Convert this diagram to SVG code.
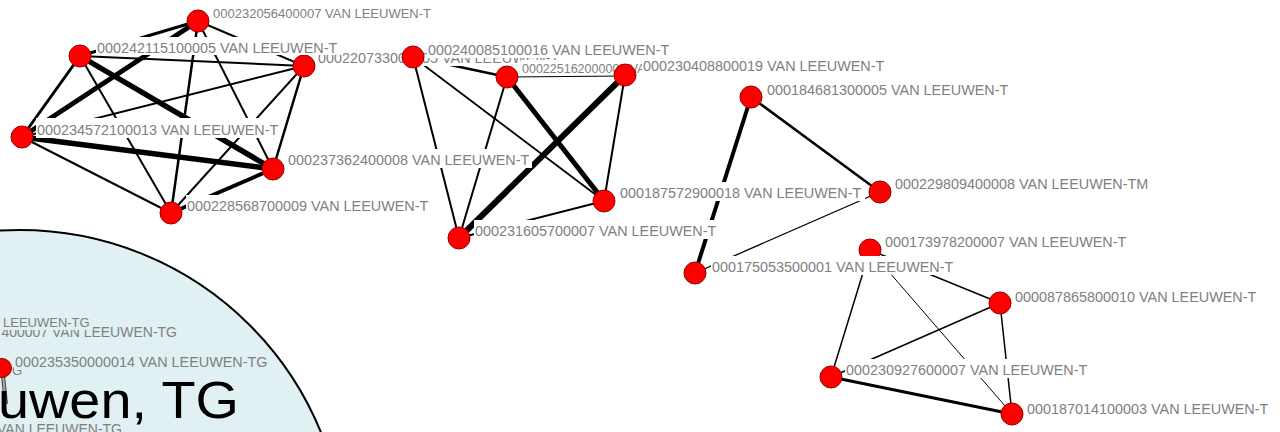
<svg xmlns="http://www.w3.org/2000/svg" width="1280" height="432" viewBox="0 0 1280 432">
<style>
.e line{stroke:#000;fill:none}
.n{fill:#f00;stroke:#900;stroke-width:1}
.t{font-family:"Liberation Sans",Arial,sans-serif;font-size:14.4px;fill:#808080}
.bg{fill:#fff}
.bb{fill:#e1f0f2}
.big{font-family:"Liberation Sans",Arial,sans-serif;font-size:52px;fill:#000}
</style>
<rect width="1280" height="432" fill="#fff"/>
<g id="connectors" class="e">
<line x1="198" y1="21" x2="80" y2="56" stroke-width="3"/>
<line x1="198" y1="21" x2="304" y2="66" stroke-width="2"/>
<line x1="198" y1="21" x2="22" y2="137" stroke-width="5"/>
<line x1="198" y1="21" x2="273" y2="169" stroke-width="2"/>
<line x1="198" y1="21" x2="171" y2="213" stroke-width="2.5"/>
<line x1="80" y1="56" x2="304" y2="66" stroke-width="2"/>
<line x1="80" y1="56" x2="22" y2="137" stroke-width="3"/>
<line x1="80" y1="56" x2="273" y2="169" stroke-width="5.5"/>
<line x1="80" y1="56" x2="171" y2="213" stroke-width="2"/>
<line x1="304" y1="66" x2="22" y2="137" stroke-width="2"/>
<line x1="304" y1="66" x2="273" y2="169" stroke-width="2.5"/>
<line x1="304" y1="66" x2="171" y2="213" stroke-width="2"/>
<line x1="22" y1="137" x2="273" y2="169" stroke-width="5.5"/>
<line x1="22" y1="137" x2="171" y2="213" stroke-width="2"/>
<line x1="273" y1="169" x2="171" y2="213" stroke-width="4"/>
<line x1="413" y1="57" x2="507" y2="77" stroke-width="2.5"/>
<line x1="413" y1="57" x2="604" y2="201" stroke-width="1.8"/>
<line x1="413" y1="57" x2="459" y2="238" stroke-width="2"/>
<line x1="507" y1="77" x2="625" y2="76" stroke-width="1.2"/>
<line x1="507" y1="77" x2="604" y2="201" stroke-width="5"/>
<line x1="507" y1="77" x2="459" y2="238" stroke-width="2"/>
<line x1="625" y1="75" x2="604" y2="201" stroke-width="2"/>
<line x1="625" y1="75" x2="459" y2="238" stroke-width="6"/>
<line x1="604" y1="201" x2="459" y2="238" stroke-width="2"/>
<line x1="751" y1="97" x2="880" y2="192" stroke-width="2.5"/>
<line x1="751" y1="97" x2="695" y2="273" stroke-width="4"/>
<line x1="880" y1="192" x2="695" y2="273" stroke-width="1.3"/>
<line x1="870" y1="250" x2="1000" y2="303" stroke-width="1.5"/>
<line x1="870" y1="250" x2="831" y2="377" stroke-width="1.5"/>
<line x1="870" y1="250" x2="1012" y2="414" stroke-width="1"/>
<line x1="1000" y1="303" x2="831" y2="377" stroke-width="1.5"/>
<line x1="1000" y1="303" x2="1012" y2="414" stroke-width="1.5"/>
<line x1="831" y1="377" x2="1012" y2="414" stroke-width="3"/>
</g>
<g id="n000232056400007"><circle class="n" cx="198" cy="21" r="11"/><rect class="bg" x="212" y="4" width="221" height="17"/><text class="t" x="213" y="18" style="font-size:13px">000232056400007 VAN LEEUWEN-T</text></g>
<g id="n000220733000005"><circle class="n" cx="304" cy="66" r="11"/><rect class="bg" x="317" y="47" width="245" height="19"/><text class="t" x="318" y="63">000220733000005 VAN LEEUWEN-T</text></g>
<g id="n000242115100005"><circle class="n" cx="80" cy="56" r="11"/><rect class="bg" x="96" y="37" width="245" height="18"/><text class="t" x="97" y="53">000242115100005 VAN LEEUWEN-T</text></g>
<g id="n000234572100013"><circle class="n" cx="22" cy="137" r="11"/><rect class="bg" x="36" y="118" width="245" height="20"/><text class="t" x="37" y="135">000234572100013 VAN LEEUWEN-T</text></g>
<g id="n000237362400008"><circle class="n" cx="273" cy="169" r="11"/><rect class="bg" x="287" y="149" width="245" height="19"/><text class="t" x="288" y="165">000237362400008 VAN LEEUWEN-T</text></g>
<g id="n000228568700009"><circle class="n" cx="171" cy="213" r="11"/><rect class="bg" x="186" y="195" width="245" height="19"/><text class="t" x="187" y="211">000228568700009 VAN LEEUWEN-T</text></g>
<g id="n000240085100016"><circle class="n" cx="413" cy="57" r="11"/><rect class="bg" x="427" y="39" width="245" height="19"/><text class="t" x="428" y="55">000240085100016 VAN LEEUWEN-T</text></g>
<g id="n000225162000001"><circle class="n" cx="507" cy="77" r="11"/><rect class="bg" x="521" y="60" width="212" height="14.5"/><text class="t" x="522" y="73" style="font-size:12.5px">000225162000001 VAN LEEUWEN-T</text></g>
<g id="n000230408800019"><circle class="n" cx="625" cy="75" r="11"/><rect class="bg" x="642" y="55" width="245" height="19"/><text class="t" x="643" y="71">000230408800019 VAN LEEUWEN-T</text></g>
<g id="n000231605700007"><circle class="n" cx="459" cy="238" r="11"/><rect class="bg" x="474" y="220" width="245" height="19"/><text class="t" x="475" y="236">000231605700007 VAN LEEUWEN-T</text></g>
<g id="n000187572900018"><circle class="n" cx="604" cy="201" r="11"/><rect class="bg" x="619" y="182" width="246" height="19"/><text class="t" x="620" y="198">000187572900018 VAN LEEUWEN-T</text></g>
<g id="n000184681300005"><circle class="n" cx="751" cy="97" r="11"/><rect class="bg" x="766" y="79" width="245" height="19"/><text class="t" x="767" y="95">000184681300005 VAN LEEUWEN-T</text></g>
<g id="n000173978200007"><circle class="n" cx="870" cy="250" r="11"/><rect class="bg" x="884" y="231" width="245" height="19"/><text class="t" x="885" y="247">000173978200007 VAN LEEUWEN-T</text></g>
<g id="n000175053500001"><circle class="n" cx="695" cy="273" r="11"/><rect class="bg" x="711" y="256" width="245" height="19"/><text class="t" x="712" y="272">000175053500001 VAN LEEUWEN-T</text></g>
<g id="n000229809400008"><circle class="n" cx="880" cy="192" r="11"/><rect class="bg" x="894" y="173" width="258" height="19"/><text class="t" x="895" y="189">000229809400008 VAN LEEUWEN-TM</text></g>
<g id="n000087865800010"><circle class="n" cx="1000" cy="303" r="11"/><rect class="bg" x="1014" y="286" width="245" height="19"/><text class="t" x="1015" y="302">000087865800010 VAN LEEUWEN-T</text></g>
<g id="n000230927600007"><circle class="n" cx="831" cy="377" r="11"/><rect class="bg" x="845" y="359" width="245" height="19"/><text class="t" x="846" y="375">000230927600007 VAN LEEUWEN-T</text></g>
<g id="n000187014100003"><circle class="n" cx="1012" cy="414" r="11"/><rect class="bg" x="1026" y="398" width="245" height="19"/><text class="t" x="1027" y="414">000187014100003 VAN LEEUWEN-T</text></g>
<g id="lens">
<circle cx="20" cy="555" r="325" fill="#e1f0f2" stroke="#000" stroke-width="2"/>
<text class="t" x="177" y="337" text-anchor="end" style="font-size:14px">400007 VAN LEEUWEN-TG</text>
<rect class="bb" x="0" y="314" width="93" height="16"/>
<text class="t" x="3" y="327" style="font-size:13px">LEEUWEN-TG</text>
<text class="t" x="12" y="375" style="font-size:13px">G</text>
<rect class="bb" x="14" y="353" width="258" height="16"/>
<text class="t" x="15" y="367">000235350000014 VAN LEEUWEN-TG</text>
<line x1="3" y1="376" x2="6" y2="404" stroke="#444" stroke-width="4"/>
<line x1="3" y1="376" x2="6" y2="404" stroke="#aaa" stroke-width="2"/>
<circle class="n" cx="2" cy="368" r="9.5"/>
<text class="t" x="122" y="434" text-anchor="end" style="font-size:14px">S VAN LEEUWEN-TG</text>
<text class="big" x="-2" y="418" textLength="241" lengthAdjust="spacingAndGlyphs">uwen, TG</text>
</g>
</svg>
